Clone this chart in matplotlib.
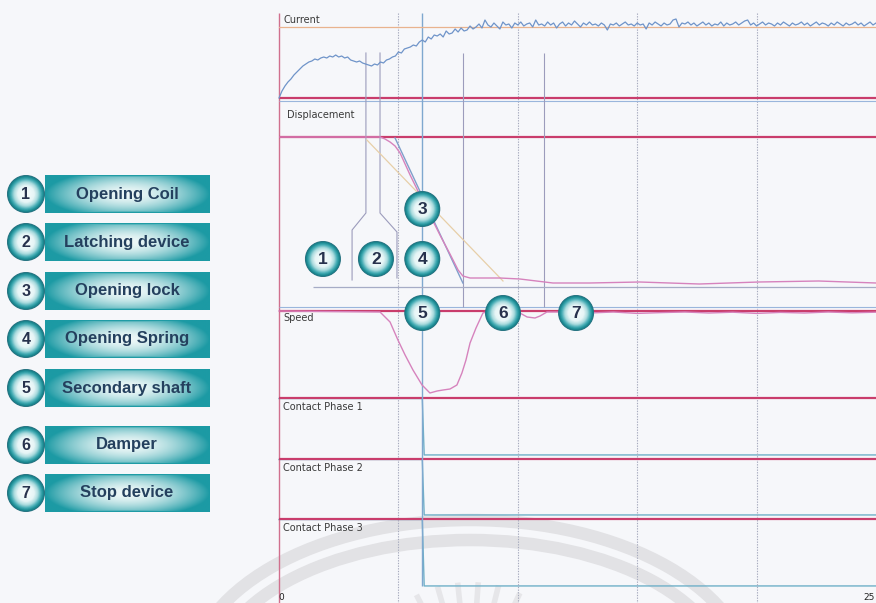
import numpy as np
import matplotlib
matplotlib.use('Agg')
import matplotlib.pyplot as plt
from matplotlib.patches import Circle, Arc
from matplotlib.colors import to_rgb

# ---- recorder data -------------------------------------------------------
t_end = 25.0                 # ms shown on the time axis
grid_t = [5, 10, 15, 20]     # dotted time grid, ms
sample_ms = 0.125

# opening coil current (A), one value every 0.125 ms
current_a = [
    0.0, 0.7, 1.2, 1.6, 1.9, 2.3, 2.6, 2.9,
    3.2, 3.4, 3.6, 3.7, 3.9, 3.8, 4.0, 4.1,
    4.0, 4.2, 4.1, 4.3, 4.1, 4.2, 4.0, 4.1,
    3.8, 3.7, 3.6, 3.7, 3.5, 3.4, 3.3, 3.2,
    3.4, 3.3, 3.6, 3.5, 3.8, 3.9, 4.1, 4.2,
    4.6, 4.5, 4.9, 5.0, 5.1, 5.3, 5.2, 5.6,
    5.8, 5.6, 6.1, 5.9, 6.3, 6.2, 6.4, 6.1,
    6.7, 6.4, 6.5, 6.9, 6.6, 7.0, 6.7, 6.8,
    7.2, 6.9, 7.1, 7.4, 7.0, 7.8, 7.3, 7.1,
    7.5, 7.2, 6.9, 7.6, 7.3, 7.4, 7.0, 7.5,
    7.3, 7.6, 7.2, 7.4, 7.5, 7.1, 7.8, 7.3,
    7.4, 7.2, 7.6, 7.3, 7.5, 7.0, 7.4, 7.6,
    7.2, 7.5, 7.3, 7.7, 7.4, 7.1, 7.5, 7.3,
    7.6, 7.3, 7.4, 7.2, 7.5, 7.3, 6.8, 7.4,
    7.3, 7.5, 7.2, 7.4, 7.6, 7.3, 7.4, 7.2,
    7.5, 7.3, 7.4, 6.9, 7.5, 7.3, 7.6, 7.4,
    7.2, 7.5, 7.3, 7.4, 7.8, 7.9, 7.1, 7.5,
    7.4, 7.6, 7.3, 7.5, 7.2, 7.4, 7.6, 7.3,
    7.5, 7.2, 7.4, 7.3, 7.6, 7.2, 7.5, 7.3,
    7.4, 7.6, 7.3, 7.5, 7.7, 7.8, 7.3, 7.5,
    7.2, 7.4, 7.6, 7.3, 7.5, 7.4, 7.2, 7.5,
    7.3, 7.6, 7.4, 7.2, 7.5, 7.3, 7.4, 7.6,
    7.3, 7.5, 7.2, 7.4, 7.6, 7.3, 7.5, 7.4,
    7.2, 7.5, 7.3, 7.6, 7.4, 7.2, 7.5, 7.3,
    7.4, 7.6, 7.3, 7.5, 7.2, 7.4, 7.6, 7.3,
    7.5,
]
current_ref_a = 7.1

# contact travel (mm)
disp_t = [0.0, 4.23, 4.44, 4.65, 4.86, 5.07, 5.49, 5.90, 6.32, 6.74, 7.16,
          7.50, 7.70, 8.00, 8.63, 9.25, 10.09, 11.47, 13.0, 15.1, 17.6,
          20.1, 22.6, 25.0]
disp_mm = [0.0, 0.0, 0.2, 0.5, 0.9, 1.6, 3.8, 5.8, 7.8, 9.8, 11.7,
           13.3, 13.9, 14.1, 14.1, 14.1, 14.2, 14.6, 14.6, 14.5, 14.7,
           14.5, 14.4, 14.6]
travel_fit_t = [4.86, 7.70]
travel_fit_mm = [0.1, 14.6]
tangent_t = [3.68, 9.38]
tangent_mm = [0.3, 14.4]
stroke_mm = 15.0
stroke_from_t = 1.42

# contact speed (m/s)
speed_t = [0.0, 4.23, 4.65, 4.98, 5.28, 5.61, 5.99, 6.32, 6.62, 6.87, 7.16,
           7.45, 7.66, 7.83, 8.00, 8.25, 8.54, 8.84, 10.09, 10.39, 10.72,
           10.93, 11.22, 12, 13, 14, 15, 16, 17, 18, 19, 20, 21, 22, 23, 24, 25]
speed_v = [0.0, -0.05, -0.55, -1.45, -2.2, -2.95, -3.7, -4.1, -4.0, -3.95, -3.9,
           -3.7, -3.1, -2.45, -1.6, -0.85, -0.1, 0.0, -0.1, -0.3, -0.35,
           -0.25, -0.05, -0.05, -0.1, -0.05, -0.12, -0.08, -0.05, -0.1, -0.06,
           -0.12, -0.07, -0.1, -0.05, -0.09, -0.06]

# main contacts, 1 = closed
contact_t = [0.0, 6.0, 6.08, 25.0]
contact_state = [1, 1, 0, 0]
phase_labels = ['Contact Phase 1', 'Contact Phase 2', 'Contact Phase 3']

# opening sequence markers (ms)
t_coil, t_latch, t_sep, t_lock_end, t_stop = 3.64, 4.23, 6.0, 7.7, 11.1

legend_items = ['Opening Coil', 'Latching device', 'Opening lock',
                'Opening Spring', 'Secondary shaft', 'Damper', 'Stop device']
# balloon numbers placed on the traces (ms)
balloon_t = {1: 1.84, 2: 4.06, 3: t_sep, 4: t_sep, 5: t_sep, 6: 9.38, 7: 12.44}

# ---- layout (pixels) -----------------------------------------------------
W, H = 876, 603
X0, X1 = 279, 876
PX_MS = (X1 - X0) / t_end

RED = '#c93d6c'
PINK = '#d683bd'
BLUE = '#6f94c9'
TEAL_LINE = '#6fb0c8'
GRIDC = '#a7abbe'
MARK = '#9c9cbc'
BG = '#f6f7fa'
SEAL = '#e2e2e5'


def ms_px(t):
    return X0 + t * PX_MS


fig = plt.figure(figsize=(W / 100, H / 100), dpi=100, facecolor=BG)


def px_axes(z):
    ax = fig.add_axes([0, 0, 1, 1])
    ax.set_xlim(0, W)
    ax.set_ylim(H, 0)
    ax.set_axis_off()
    ax.patch.set_alpha(0)
    ax.set_zorder(z)
    return ax


def panel(top, bottom, ylim, z=2):
    ax = fig.add_axes([X0 / W, 1 - bottom / H, (X1 - X0) / W, (bottom - top) / H])
    ax.set_xlim(0, t_end)
    ax.set_ylim(*ylim)
    ax.set_axis_off()
    ax.patch.set_alpha(0)
    ax.set_zorder(z)
    return ax


# faint seal watermark behind everything
ax_bg = px_axes(0)
ax_bg.add_patch(Arc((470, 680), 560, 320, theta1=180, theta2=360,
                    color=SEAL, lw=9))
ax_bg.add_patch(Arc((470, 680), 516, 280, theta1=180, theta2=360,
                    color=SEAL, lw=9))
for ang in [-128, -117, -106, -96, -86, -76, -65, -54]:
    a = np.deg2rad(ang)
    ax_bg.plot([470 + 96 * np.cos(a), 470 + 118 * np.cos(a)],
               [700 + 96 * np.sin(a), 700 + 118 * np.sin(a)],
               color='#e6e6e9', lw=4, solid_capstyle='butt')

# grid, separators and marker lines: x in ms, y in pixels
ax_ov = fig.add_axes([X0 / W, 0, (X1 - X0) / W, 1])
ax_ov.set_xlim(0, t_end)
ax_ov.set_ylim(H, 0)
ax_ov.set_axis_off()
ax_ov.patch.set_alpha(0)
ax_ov.set_zorder(1)

ax_ov.vlines(grid_t, 13, H, color=GRIDC, lw=0.8, linestyles=(0, (1.2, 1.2)))
ax_ov.vlines(0, 13, H, color='#d0708e', lw=1.0, clip_on=False)

for y in [98, 137, 311, 398, 459, 519]:
    ax_ov.hlines(y, 0, t_end, color=RED, lw=1.6, clip_on=False)
for y in [101, 307]:
    ax_ov.hlines(y, 0, t_end, color='#9ab6dc', lw=0.8, clip_on=False)

# bracket round balloon 2
b2 = balloon_t[2]
ax_ov.plot([t_coil, t_coil, b2 - 1.0, b2 - 1.0], [53, 213, 230, 280],
           color=MARK, lw=0.8)
ax_ov.plot([t_latch, t_latch, b2 + 0.88, b2 + 0.88], [53, 213, 232, 278],
           color=MARK, lw=0.8)
ax_ov.vlines([t_lock_end, t_stop], 53, 307, color=MARK, lw=0.8)
ax_ov.vlines(t_sep, 13, 586, color='#7fa8cf', lw=1.0)

# current
ax_c = panel(13, 98, (0, 8.5))
ax_c.axhline(current_ref_a, color='#e9b38e', lw=0.9)
ax_c.plot(np.arange(len(current_a)) * sample_ms, current_a, color=BLUE, lw=0.9,
          clip_on=False)

# displacement (mm, downward)
ax_d = panel(98, 311, (17.4, -3.9))
ax_d.hlines(stroke_mm, stroke_from_t, t_end, color='#a6acc6', lw=0.9)
ax_d.plot(tangent_t, tangent_mm, color='#e7cfa8', lw=0.9)
ax_d.plot(travel_fit_t, travel_fit_mm, color='#7f9fcb', lw=1.0)
ax_d.plot(disp_t, disp_mm, color=PINK, lw=1.0)

# speed (m/s)
ax_s = panel(311, 398, (-4.35, 0))
ax_s.plot(speed_t, speed_v, color=PINK, lw=1.0, clip_on=False)

# contact phases; the closed level sits under the red separator
phase_box = [(398, 459, (-0.072, 1.009)),
             (459, 519, (-0.073, 1.009)),
             (519, 590, (-0.061, 1.008))]
for top, bottom, ylim in phase_box:
    ax_p = panel(top, bottom, ylim, z=0.8)
    ax_p.plot(contact_t, contact_state, color=TEAL_LINE, lw=1.0, clip_on=False)

# ---- labels, balloons and legend ----------------------------------------
ax_fg = px_axes(5)
lab = dict(fontsize=7, color='#3a3a3a', family='DejaVu Sans', va='center', ha='left')
ax_fg.text(283, 20, 'Current', **lab)
ax_fg.text(287, 115, 'Displacement', **lab)
ax_fg.text(283, 318, 'Speed', **lab)
for y, name in zip([407, 468, 528], phase_labels):
    ax_fg.text(283, y, name, **lab)
ax_fg.text(281, 597, '0', fontsize=6.5, color='#222', ha='center', va='center')
ax_fg.text(875, 597, '25', fontsize=6.5, color='#222', ha='right', va='center')

stops = [(0.0, '#fbfdfd'), (0.45, '#e6f5f6'), (0.64, '#aadbde'),
         (0.8, '#45adb5'), (0.93, '#17878f'), (1.0, '#2b7180')]


def grad_color(f):
    for (f0, c0), (f1, c1) in zip(stops[:-1], stops[1:]):
        if f <= f1:
            k = (f - f0) / (f1 - f0)
            return tuple(np.array(to_rgb(c0)) * (1 - k) + np.array(to_rgb(c1)) * k)
    return to_rgb(stops[-1][1])


def balloon(cx, cy, r, text, fs):
    n = 36
    for i in range(n, 0, -1):
        f = i / n
        ax_fg.add_patch(Circle((cx, cy), r * f, color=grad_color(f), lw=0))
    ax_fg.text(cx, cy + 0.5, text, fontsize=fs, fontweight='bold', color='#27324d',
               ha='center', va='center', family='Liberation Sans')


balloon_y = {1: 259, 2: 259, 3: 209, 4: 259, 5: 313, 6: 313, 7: 313}
for k, t in balloon_t.items():
    balloon(ms_px(t), balloon_y[k], 18, str(k), 12.5)

# legend boxes with a soft teal gradient
gh, gw = 40, 200
u = np.linspace(-1, 1, gw)[None, :]
v = np.linspace(-1, 1, gh)[:, None]
shade = np.clip(np.sqrt(u ** 2 + 0.6 * v ** 2), 0, 1) ** 1.8
shade = np.maximum(shade, np.abs(v) ** 6)
c_mid = np.array(to_rgb('#eef8f8'))
c_edge = np.array(to_rgb('#1c9aa4'))
box_img = c_mid * (1 - shade[..., None]) + c_edge * shade[..., None]

legend_y = [194, 242, 291, 339, 388, 445, 493]
for i, (name, yc) in enumerate(zip(legend_items, legend_y)):
    ax_fg.imshow(box_img, extent=(45, 210, yc + 19, yc - 19), aspect='auto',
                 interpolation='bilinear', zorder=1)
    ax_fg.text(127, yc, name, fontsize=12, fontweight='bold', color='#24405e',
               ha='center', va='center', family='Liberation Sans', zorder=3)
    balloon(26, yc, 19, str(i + 1), 11.5)
ax_fg.set_xlim(0, W)
ax_fg.set_ylim(H, 0)

fig.savefig('out.png', dpi=100, facecolor=BG)
